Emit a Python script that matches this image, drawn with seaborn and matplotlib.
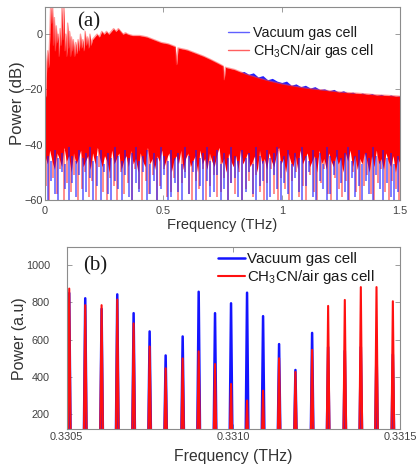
import numpy as np
import matplotlib
matplotlib.use("Agg")
import matplotlib.pyplot as plt
from matplotlib.lines import Line2D
import seaborn as sns

# ---------------- panel (a): broadband spectrum, dB ----------------
# upper edge of the CH3CN/air spectrum (THz, dB)
env_f = [0.000, 0.004, 0.008, 0.012, 0.016, 0.020, 0.024, 0.028, 0.032, 0.036,
         0.040, 0.044, 0.048, 0.052, 0.056, 0.060, 0.064, 0.068, 0.072, 0.076,
         0.080, 0.084, 0.088, 0.092, 0.096, 0.100, 0.104, 0.108, 0.112, 0.116,
         0.120, 0.125, 0.130, 0.135, 0.140, 0.145, 0.150, 0.155, 0.160, 0.165,
         0.170, 0.175, 0.180, 0.185, 0.190, 0.195, 0.200, 0.210, 0.220, 0.230,
         0.240, 0.250, 0.260, 0.270, 0.280, 0.290, 0.300, 0.310, 0.320, 0.330,
         0.340, 0.350, 0.370, 0.400, 0.430, 0.460, 0.490, 0.520, 0.550, 0.556,
         0.562, 0.600, 0.640, 0.670, 0.700, 0.730, 0.752, 0.757, 0.762, 0.800,
         0.850, 0.900, 0.950, 1.000, 1.050, 1.100, 1.150, 1.200, 1.250, 1.300,
         1.350, 1.400, 1.450, 1.500]
red_top = [-24, -22, -10, -6, -12, -2, 10, 4, 10, -4,
           6, -6, 3, -3, 0, -8, 2, -4, 10, -2,
           10, -6, 0, -8, 4, -5, 1, -8, -1, -6,
           -2, -8, -3, -7, -2, -6, 0, -5, -2, -6,
           1, -4, -1, -5, 0, -4, -2, -1, 0, -1,
           1, 0, 1, 0, 1, 2, 1, 2, 1, 0,
           0.5, 0, -0.5, -0.5, -1, -2, -3, -3.5, -4.5, -11,
           -5, -5.7, -7, -8, -9.2, -10.5, -11.5, -16.5, -12, -12.8,
           -14.5, -15.8, -17, -18, -18.8, -19.5, -20, -20.5, -21, -21.3,
           -21.6, -22, -22.2, -22.5]

# upper edge of the vacuum spectrum where it rises above the CH3CN/air one
blue_f = [0.80, 0.82, 0.84, 0.86, 0.88, 0.90, 0.92, 0.94, 0.96, 0.98, 1.00,
          1.02, 1.04, 1.06, 1.08, 1.10, 1.12, 1.14, 1.16, 1.18, 1.20, 1.22,
          1.24, 1.26, 1.28, 1.30, 1.32, 1.34, 1.36, 1.38, 1.40, 1.42, 1.44,
          1.46, 1.48, 1.50]
blue_top = [-13, -14, -13.5, -14.5, -14, -15.5, -15, -16.5, -16, -17, -17.5,
            -17, -18.5, -18, -19, -18.5, -19.5, -19, -20, -19.8, -20.5, -20,
            -21, -20.5, -21.3, -21, -21.8, -21.3, -22, -21.5, -22.2, -21.8,
            -22.5, -22, -22.6, -22.3]

# lower edge of the dense part of the CH3CN/air spectrum (dB)
body_low = [-44, -47, -42, -46, -49, -43, -45, -48, -41, -46,
            -44, -50, -43, -47, -45, -42, -48, -46, -44, -49,
            -43, -47, -41, -45, -48, -44, -46, -50, -42, -47,
            -45, -43, -49, -46, -44, -48, -42, -47, -45, -50,
            -43, -46, -48, -41, -47, -45, -49, -44, -46, -42,
            -48, -45, -43, -50, -46, -44, -47, -42, -49, -45,
            -43, -48, -46, -44, -50, -42, -47, -45, -49, -43,
            -46, -48, -44, -41, -47, -45, -50, -43, -46, -48,
            -44, -49, -42, -47, -45, -43, -48, -46, -44, -50,
            -42, -47, -45, -49, -43, -46, -48, -44, -41, -47,
            -45, -50, -43, -46, -48, -44, -49, -42, -47, -45,
            -43, -48, -46, -44, -50, -42, -47, -45, -49, -43,
            -46, -48, -44, -47, -45, -50, -43, -46, -42, -48,
            -44, -49, -45, -47, -43, -46, -50, -44, -48, -42,
            -47, -45, -49, -43, -46, -48, -44, -50, -45, -47]

# noise-floor minima between comb lines (dB)
red_min = [-55, -60, -52, -58, -49, -60, -54, -57, -51, -60,
           -56, -50, -59, -53, -60, -48, -57, -60, -52, -55,
           -60, -50, -58, -54, -60, -49, -56, -60, -53, -58,
           -51, -60, -55, -49, -59, -57, -52, -60, -54, -50,
           -58, -60, -53, -56, -49, -60, -55, -51, -59, -57,
           -52, -60, -54, -58, -50, -60, -56, -53, -59, -51,
           -57, -60, -54, -49, -58, -60, -52, -56, -60, -53,
           -50, -59, -55, -60, -51, -57, -60, -54, -49, -58,
           -60, -52, -56, -59, -53, -60, -50, -57, -60, -55,
           -51, -58, -60, -54, -49, -57, -60, -53, -56, -60]
blue_max = [-44, -46, -42, -45, -43, -47, -41, -44, -46, -42,
            -45, -43, -41, -46, -44, -42, -47, -43, -45, -41,
            -44, -46, -42, -45, -43, -41, -46, -44, -42, -47,
            -43, -45, -41, -44, -46, -42, -45, -43, -47, -41,
            -44, -46, -42, -45, -43, -41, -46, -44, -42, -47,
            -43, -45, -41, -44, -46, -42, -45, -43, -47, -41,
            -44, -46, -42, -45, -43, -41, -46, -44, -42, -47,
            -43, -45, -41, -44, -46, -42, -45, -43, -47, -41,
            -44, -46, -42, -45, -43, -41, -46, -44, -42, -47,
            -43, -45, -41, -44, -46, -42, -45, -43, -47, -44]
blue_min = [-60, -53, -58, -60, -50, -56, -60, -54, -59, -51,
            -60, -57, -52, -60, -55, -60, -50, -58, -60, -53,
            -56, -60, -51, -59, -60, -54, -57, -50, -60, -58,
            -53, -60, -56, -51, -60, -59, -54, -57, -60, -52,
            -58, -50, -60, -55, -60, -53, -59, -57, -51, -60,
            -56, -60, -54, -52, -59, -60, -57, -50, -58, -60,
            -55, -53, -60, -59, -51, -56, -60, -54, -58, -60,
            -52, -57, -60, -55, -50, -59, -60, -53, -56, -60,
            -58, -51, -60, -54, -57, -60, -52, -59, -55, -60,
            -53, -58, -60, -51, -56, -60, -54, -59, -60, -57]

# ---------------- panel (b): resolved comb lines ----------------
comb_f = [0.330508, 0.330556, 0.330605, 0.330652, 0.330701, 0.330749, 0.330797,
          0.330848, 0.330896, 0.330945, 0.330993, 0.331041, 0.331089, 0.331137,
          0.331186, 0.331236, 0.331284, 0.331334, 0.331382, 0.331429, 0.331478]
vacuum_power = [850, 822, 765, 843, 742, 644, 515, 617, 857, 742, 795,
                852, 726, 576, 437, 636, 560, 540, 560, 560, 520]
ch3cn_power = [874, 785, 785, 815, 687, 563, 446, 499, 537, 469, 362,
               273, 326, 500, 426, 545, 781, 813, 882, 882, 806]

top_xticks = [0, 0.5, 1, 1.5]
top_xticklabels = ["0", "0.5", "1", "1.5"]
top_yticks = [-60, -40, -20, 0]
bot_xticks = [0.3305, 0.3310, 0.3315]
bot_xticklabels = ["0.3305", "0.3310", "0.3315"]
bot_yticks = [200, 400, 600, 800, 1000]

label_vac = "Vacuum gas cell"
label_ch3cn = r"CH$_\mathregular{3}$CN/air gas cell"

# ---------------- style ----------------
sns.set_theme(style="ticks")
plt.rcParams["font.family"] = ["Liberation Sans", "DejaVu Sans"]
plt.rcParams["mathtext.fontset"] = "custom"
plt.rcParams["mathtext.rm"] = "Liberation Sans"
plt.rcParams["mathtext.it"] = "Liberation Sans:italic"
plt.rcParams["mathtext.bf"] = "Liberation Sans:bold"

SPINE = "#8c8c8c"
TICKTXT = "#404040"
LABELTXT = "#333333"

fig = plt.figure(figsize=(4.16, 4.68), dpi=100)
ax1 = fig.add_axes([0.108, 0.573, 0.854, 0.413])
ax2 = fig.add_axes([0.160, 0.0833, 0.802, 0.388])


def style_axes(ax, ypad, xpad):
    for s in ax.spines.values():
        s.set_color(SPINE)
        s.set_linewidth(0.8)
    ax.tick_params(which="both", direction="in", length=3.5, width=0.6,
                   color=SPINE, top=True, right=True, labelsize=7.8,
                   labelcolor=TICKTXT)
    ax.tick_params(axis="y", pad=ypad)
    ax.tick_params(axis="x", pad=xpad)


# panel (a)
n_red = len(red_min)
n_blue = len(blue_min)
n_low = len(body_low)
red_pos = np.linspace(0.004, 1.496, n_red)
blue_pos = np.linspace(0.011, 1.489, n_blue)
low_pos = np.linspace(0.0, 1.5, n_low)

# faint spikes of the CH3CN/air noise floor
ax1.vlines(red_pos, red_min, -42, color="#ff0000", lw=1.4, alpha=0.45)
ax1.fill_between(blue_f, -40, blue_top, color="#2020ff", lw=0)
ax1.fill_between(env_f, -41, red_top, color="#ff0000", lw=0)
ax1.fill_between(low_pos, body_low, -40, color="#ff0000", lw=0)
sns.lineplot(x=env_f, y=red_top, color="#ff4040", lw=1.0, alpha=0.5,
             sort=False, estimator=None, ax=ax1)
# vacuum-cell noise floor on top
ax1.vlines(blue_pos, blue_min, blue_max, color="#1a1aff", lw=1.1, alpha=0.72)

ax1.set_xlim(0, 1.5)
ax1.set_ylim(-60, 10)
ax1.set_xticks(top_xticks)
ax1.set_xticklabels(top_xticklabels)
ax1.set_yticks(top_yticks)
style_axes(ax1, ypad=1.5, xpad=4.5)
ax1.set_xlabel("Frequency (THz)", fontsize=10.5, color=LABELTXT)
ax1.set_ylabel("Power (dB)", fontsize=12, color=LABELTXT)
ax1.xaxis.set_label_coords(0.5, -0.095)
ax1.yaxis.set_label_coords(-0.055, 0.5)
ax1.text(0.09, 0.92, "(a)", transform=ax1.transAxes, fontsize=15,
         family="Liberation Serif", va="center", ha="left", color="#1a1a1a")

h_top = [Line2D([], [], color="#6060ff", lw=1.0),
         Line2D([], [], color="#ff6060", lw=1.0)]
ax1.legend(h_top, [label_vac, label_ch3cn], loc="upper left",
           bbox_to_anchor=(0.515, 0.90), frameon=False, fontsize=10.3,
           borderaxespad=0, borderpad=0, handlelength=1.45,
           handletextpad=0.3, labelspacing=0.15, labelcolor="#1a1a1a")


# panel (b)
def comb_trace(centres, heights, half_width=4.5e-6, floor=0.0):
    xs, ys = [], []
    for c, h in zip(centres, heights):
        xs += [c - half_width, c, c + half_width]
        ys += [floor, h, floor]
    return xs, ys


bx, by = comb_trace(comb_f, vacuum_power)
rx, ry = comb_trace(comb_f, ch3cn_power)
sns.lineplot(x=bx, y=by, color="#1414ff", lw=1.8, sort=False,
             estimator=None, ax=ax2, label=label_vac)
sns.lineplot(x=rx, y=ry, color="#ff1010", lw=1.5, sort=False,
             estimator=None, ax=ax2, label=label_ch3cn)

ax2.set_xlim(0.3305, 0.3315)
ax2.set_ylim(120, 1095)
ax2.set_xticks(bot_xticks)
ax2.set_xticklabels(bot_xticklabels)
ax2.set_yticks(bot_yticks)
style_axes(ax2, ypad=12, xpad=2.5)
ax2.set_xlabel("Frequency (THz)", fontsize=11.3, color=LABELTXT)
ax2.set_ylabel("Power (a.u)", fontsize=11.5, color=LABELTXT)
ax2.xaxis.set_label_coords(0.5, -0.108)
ax2.yaxis.set_label_coords(-0.118, 0.5)
ax2.text(0.049, 0.897, "(b)", transform=ax2.transAxes, fontsize=15,
         family="Liberation Serif", va="center", ha="left", color="#1a1a1a")
ax2.legend(loc="upper left", bbox_to_anchor=(0.454, 0.973), frameon=False,
           fontsize=10.9, borderaxespad=0, borderpad=0, handlelength=1.8,
           handletextpad=0.1, labelspacing=0.1, labelcolor="#1a1a1a")

fig.savefig("out.png", dpi=100)
